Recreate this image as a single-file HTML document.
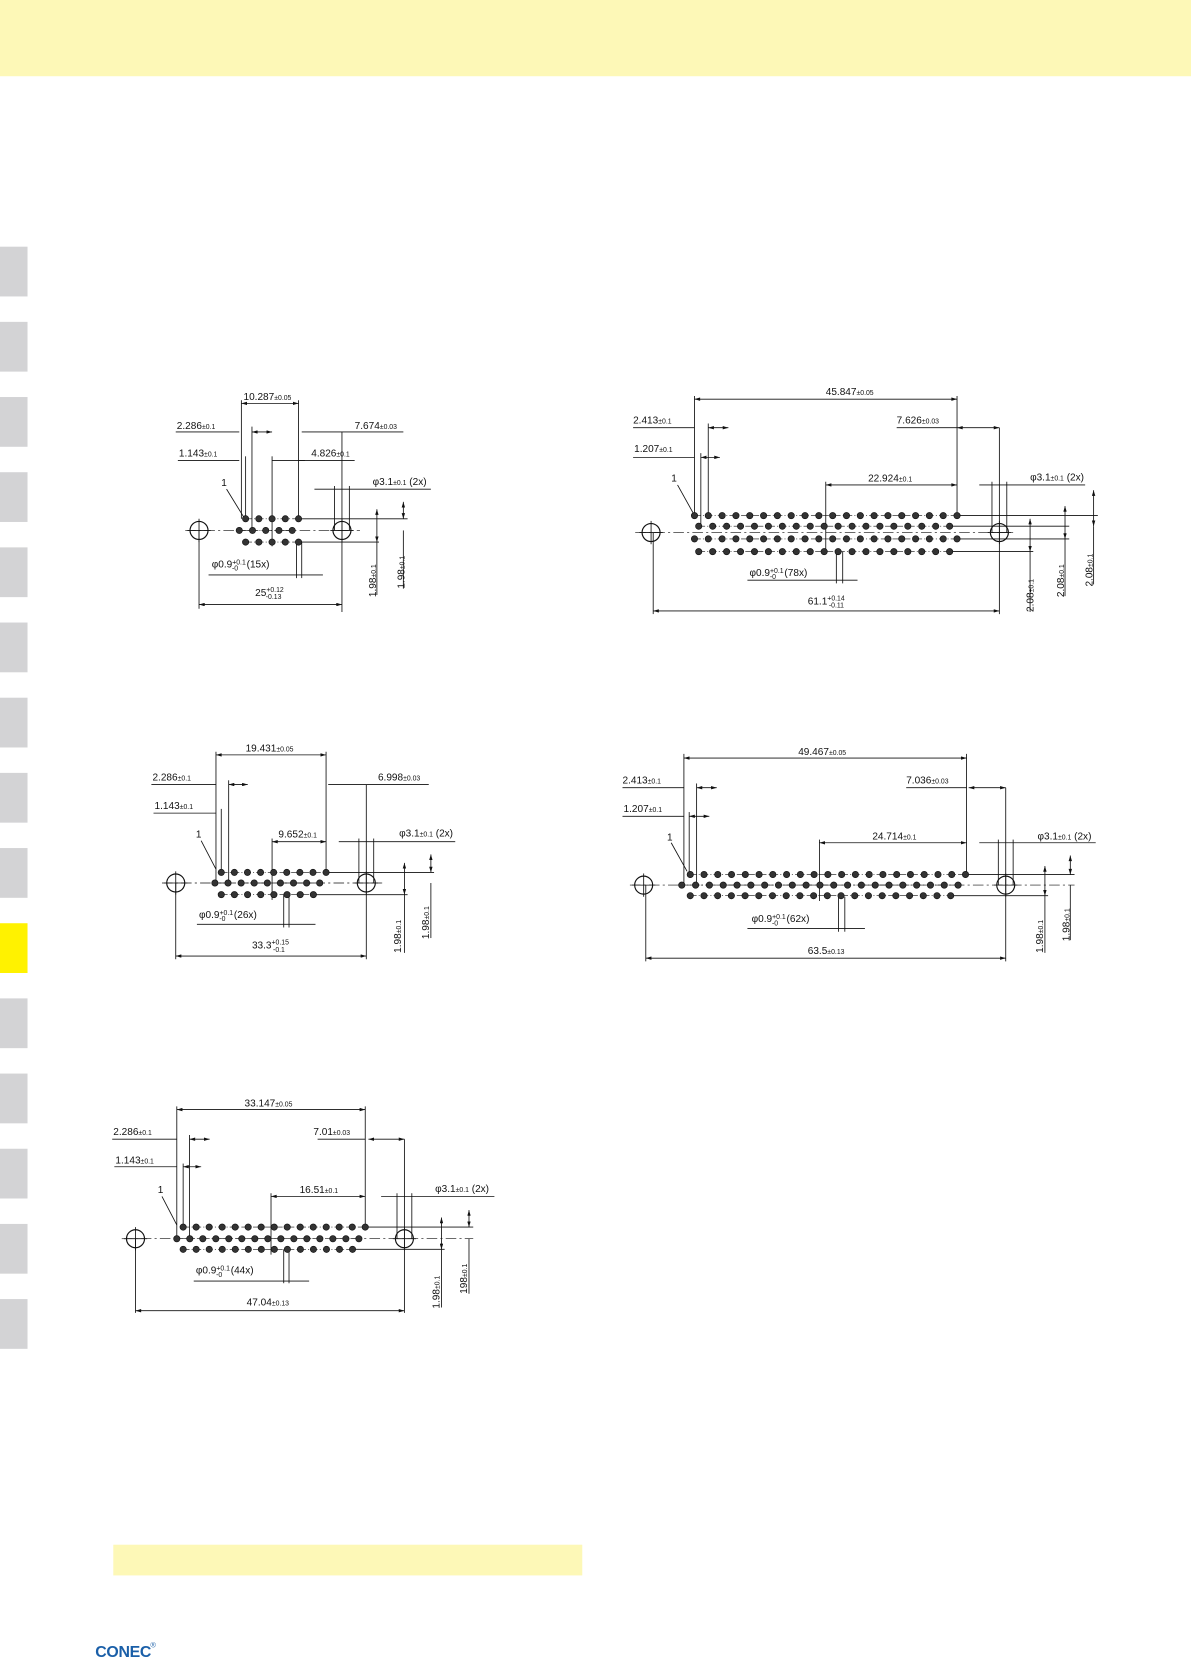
<!DOCTYPE html>
<html><head><meta charset="utf-8">
<style>
html,body{margin:0;padding:0;background:#fff;}
svg{display:block;}
text{font-family:"Liberation Sans Narrow","Liberation Sans",sans-serif;font-size:9.5px;fill:#111;}
.t{font-size:6.5px;}
</style></head>
<body>
<svg id="s" width="1191" height="1658" viewBox="0 0 1125 1566" preserveAspectRatio="none" xmlns="http://www.w3.org/2000/svg">
<defs>
<marker id="a" viewBox="0 0 10 6" refX="10" refY="3" markerWidth="7" markerHeight="4" orient="auto-start-reverse"><path d="M0,0 L10,3 L0,6z" fill="#111"/></marker>
</defs>
<rect x="0" y="0" width="1125" height="72" fill="#fdf8b7"/>
<g fill="#d3d3d5">
<rect x="0" y="233" width="26" height="47"/><rect x="0" y="304" width="26" height="47"/><rect x="0" y="375" width="26" height="47"/><rect x="0" y="446" width="26" height="47"/><rect x="0" y="517" width="26" height="47"/><rect x="0" y="588" width="26" height="47"/><rect x="0" y="659" width="26" height="47"/><rect x="0" y="730" width="26" height="47"/><rect x="0" y="801" width="26" height="47"/><rect x="0" y="943" width="26" height="47"/><rect x="0" y="1014" width="26" height="47"/><rect x="0" y="1085" width="26" height="47"/><rect x="0" y="1156" width="26" height="47"/><rect x="0" y="1227" width="26" height="47"/>
</g>
<rect x="0" y="872" width="26" height="47" fill="#fff200"/>
<rect x="107" y="1459" width="443" height="29" fill="#fdf8b7"/>
<text x="90" y="1565" style="font-family:'Liberation Sans',sans-serif;font-weight:900;font-size:15px;fill:#1a5fa8;letter-spacing:-0.3px">CONEC</text>
<text x="142" y="1556" style="font-size:7px;fill:#1a5fa8">®</text>

<g id="lines" stroke="#111" stroke-width="0.8" fill="none"></g>
<g id="pins" fill="#333" stroke="#111" stroke-width="0.6"></g>

<!-- Diagram 1 text -->
<text x="230" y="378">10.287<tspan class="t">±0.05</tspan></text>
<text x="167" y="405">2.286<tspan class="t">±0.1</tspan></text>
<text x="335" y="405">7.674<tspan class="t">±0.03</tspan></text>
<text x="169" y="431">1.143<tspan class="t">±0.1</tspan></text>
<text x="294" y="431">4.826<tspan class="t">±0.1</tspan></text>
<text x="209" y="459">1</text>
<text x="352" y="458">φ3.1<tspan class="t">±0.1</tspan> (2x)</text>
<text x="200" y="536">φ0.9<tspan class="t" dy="-3">+0.1</tspan><tspan class="t" dx="-13" dy="6">-0</tspan><tspan dx="8" dy="-3">(15x)</tspan></text>
<text x="241" y="563">25<tspan class="t" dy="-4">+0.12</tspan><tspan class="t" dx="-17" dy="7">-0.13</tspan></text>
<text transform="translate(355,564) rotate(-90)">1.98<tspan class="t">±0.1</tspan></text>
<text transform="translate(382,556) rotate(-90)">1.98<tspan class="t">±0.1</tspan></text>

<!-- Diagram 2 text -->
<text x="780" y="373">45.847<tspan class="t">±0.05</tspan></text>
<text x="598" y="400">2.413<tspan class="t">±0.1</tspan></text>
<text x="847" y="400">7.626<tspan class="t">±0.03</tspan></text>
<text x="599" y="427">1.207<tspan class="t">±0.1</tspan></text>
<text x="820" y="455">22.924<tspan class="t">±0.1</tspan></text>
<text x="634" y="455">1</text>
<text x="973" y="454">φ3.1<tspan class="t">±0.1</tspan> (2x)</text>
<text x="708" y="544">φ0.9<tspan class="t" dy="-3">+0.1</tspan><tspan class="t" dx="-13" dy="6">-0</tspan><tspan dx="8" dy="-3">(78x)</tspan></text>
<text x="763" y="571">61.1<tspan class="t" dy="-4">+0.14</tspan><tspan class="t" dx="-15" dy="7">-0.11</tspan></text>
<text transform="translate(976,578) rotate(-90)">2.08<tspan class="t">±0.1</tspan></text>
<text transform="translate(1005,564) rotate(-90)">2.08<tspan class="t">±0.1</tspan></text>
<text transform="translate(1032,554) rotate(-90)">2.08<tspan class="t">±0.1</tspan></text>

<!-- Diagram 3 text -->
<text x="232" y="710">19.431<tspan class="t">±0.05</tspan></text>
<text x="144" y="737">2.286<tspan class="t">±0.1</tspan></text>
<text x="357" y="737">6.998<tspan class="t">±0.03</tspan></text>
<text x="146" y="764">1.143<tspan class="t">±0.1</tspan></text>
<text x="263" y="791">9.652<tspan class="t">±0.1</tspan></text>
<text x="185" y="791">1</text>
<text x="377" y="790">φ3.1<tspan class="t">±0.1</tspan> (2x)</text>
<text x="188" y="867">φ0.9<tspan class="t" dy="-3">+0.1</tspan><tspan class="t" dx="-13" dy="6">-0</tspan><tspan dx="8" dy="-3">(26x)</tspan></text>
<text x="238" y="896">33.3<tspan class="t" dy="-4">+0.15</tspan><tspan class="t" dx="-15" dy="7">-0.1</tspan></text>
<text transform="translate(379,900) rotate(-90)">1.98<tspan class="t">±0.1</tspan></text>
<text transform="translate(405,887) rotate(-90)">1.98<tspan class="t">±0.1</tspan></text>

<!-- Diagram 4 text -->
<text x="754" y="713">49.467<tspan class="t">±0.05</tspan></text>
<text x="588" y="740">2.413<tspan class="t">±0.1</tspan></text>
<text x="856" y="740">7.036<tspan class="t">±0.03</tspan></text>
<text x="589" y="767">1.207<tspan class="t">±0.1</tspan></text>
<text x="824" y="793">24.714<tspan class="t">±0.1</tspan></text>
<text x="630" y="794">1</text>
<text x="980" y="793">φ3.1<tspan class="t">±0.1</tspan> (2x)</text>
<text x="710" y="871">φ0.9<tspan class="t" dy="-3">+0.1</tspan><tspan class="t" dx="-13" dy="6">-0</tspan><tspan dx="8" dy="-3">(62x)</tspan></text>
<text x="763" y="901">63.5<tspan class="t">±0.13</tspan></text>
<text transform="translate(985,900) rotate(-90)">1.98<tspan class="t">±0.1</tspan></text>
<text transform="translate(1010,889) rotate(-90)">1.98<tspan class="t">±0.1</tspan></text>

<!-- Diagram 5 text -->
<text x="231" y="1045">33.147<tspan class="t">±0.05</tspan></text>
<text x="107" y="1072">2.286<tspan class="t">±0.1</tspan></text>
<text x="296" y="1072">7.01<tspan class="t">±0.03</tspan></text>
<text x="109" y="1099">1.143<tspan class="t">±0.1</tspan></text>
<text x="283" y="1127">16.51<tspan class="t">±0.1</tspan></text>
<text x="149" y="1127">1</text>
<text x="411" y="1126">φ3.1<tspan class="t">±0.1</tspan> (2x)</text>
<text x="185" y="1203">φ0.9<tspan class="t" dy="-3">+0.1</tspan><tspan class="t" dx="-13" dy="6">-0</tspan><tspan dx="8" dy="-3">(44x)</tspan></text>
<text x="233" y="1233">47.04<tspan class="t">±0.13</tspan></text>
<text transform="translate(415,1236) rotate(-90)">1.98<tspan class="t">±0.1</tspan></text>
<text transform="translate(441,1222) rotate(-90)">198<tspan class="t">±0.1</tspan></text>
</svg>
<script>
(function(){
var NS="http://www.w3.org/2000/svg";
var L=document.getElementById("lines"),P=document.getElementById("pins");
function el(p,t,a){var e=document.createElementNS(NS,t);for(var k in a)e.setAttribute(k,a[k]);p.appendChild(e);return e;}
function ln(x1,y1,x2,y2,o){var a={x1:x1,y1:y1,x2:x2,y2:y2};if(o){for(var k in o)a[k]=o[k];}return el(L,"line",a);}
function dim(x1,y,x2){ln(x1,y,x2,y,{"marker-start":"url(#a)","marker-end":"url(#a)"});}
function lead(x1,y,x2){ln(x1,y,x2,y);}
function vd(x,y1,y2){ln(x,y1,x,y2,{"marker-start":"url(#a)","marker-end":"url(#a)"});}
function hole(x,y){el(L,"circle",{cx:x,cy:y,r:8.5,"stroke-width":1.1});ln(x-11,y,x+11,y);ln(x,y-11,x,y+11);}
function center(x1,x2,y){ln(x1,y,x2,y,{"stroke-dasharray":"10 3 2 3","stroke-width":0.6});}
function row(y,x0,x1,n){ln(x0,y,x1,y,{"stroke-dasharray":"6 2 1 2","stroke-width":0.6});for(var i=0;i<n;i++){var x=x0+(x1-x0)*i/(n-1);el(P,"circle",{cx:x,cy:y,r:3});}}
// D1
hole(188,501);hole(323,501);center(175,340,501);
row(490,232,282,5);row(501,226,276,5);row(512,232,282,5);
dim(228,381,282);ln(228,378,228,490);ln(282,378,282,490);
lead(166,408,226);dim(238,408,257);ln(238,403,238,501);
lead(285,408,381);ln(323,408,323,578);
lead(168,435,226);ln(232,431,232,490);lead(257,435,288);ln(257,431,257,516);
lead(282,435,335);
ln(214,462,230,488);
lead(297,462,407);ln(316,459,316,501);ln(330,459,330,501);
lead(197,543,305);ln(280,512,280,546);ln(285,512,285,546);
dim(188,571,323);ln(188,501,188,575);
ln(282,490,385,490);ln(282,512,358,512);
vd(356,481,512);ln(356,512,356,562);vd(381,474,490);ln(381,501,381,556);
// D2
hole(615,503);hole(944,503);center(600,960,503);
row(487,656,904,20);row(497,660,897,19);row(509,656,904,20);row(521,660,897,19);
dim(656,377,904);ln(656,374,656,487);ln(904,374,904,487);
lead(598,404,656);dim(669,404,688);ln(669,400,669,487);
lead(847,404,904);dim(904,404,944);ln(944,404,944,580);
lead(598,432,656);dim(662,432,680);ln(662,428,662,497);
dim(780,458,904);ln(780,455,780,521);
ln(640,458,655,485);
lead(925,458,1025);ln(937,455,937,503);ln(951,455,951,503);
lead(706,548,810);ln(790,521,790,551);ln(796,521,796,551);
dim(617,577,944);ln(617,503,617,580);
ln(904,487,1037,487);ln(897,497,1010,497);ln(904,509,1010,509);ln(897,521,976,521);
vd(973,490,521);ln(973,521,973,578);vd(1006,478,509);ln(1006,509,1006,563);vd(1033,463,497);ln(1033,497,1033,552);
// D3
hole(166,834);hole(346,834);center(153,362,834);
row(824,209,308,9);row(834,203,302,9);row(845,209,296,8);
dim(204,713,308);ln(204,710,204,834);ln(308,710,308,824);
lead(143,741,204);dim(216,741,234);ln(216,737,216,834);
lead(310,741,405);ln(346,741,346,906);
lead(145,768,204);ln(209,764,209,824);
dim(257,795,308);ln(257,792,257,850);
ln(190,794,204,821);
lead(320,795,430);ln(339,792,339,834);ln(353,792,353,834);
lead(186,873,298);ln(268,845,268,876);ln(273,845,273,876);
dim(166,903,346);ln(166,834,166,906);
ln(308,824,410,824);ln(296,845,385,845);
vd(382,815,845);ln(382,845,382,900);vd(407,807,824);ln(407,834,407,886);
// D4
hole(608,836);hole(950,836);center(595,1015,836);
row(826,652,912,21);row(836,644,905,21);row(846,652,898,20);
dim(646,716,913);ln(646,712,646,836);ln(913,712,913,826);
lead(588,744,646);dim(658,744,677);ln(658,740,658,836);
lead(856,744,913);dim(915,744,950);ln(950,744,950,908);
lead(588,771,646);dim(651,771,670);ln(651,767,651,826);
dim(774,796,913);ln(774,793,774,851);
ln(634,796,649,823);
lead(925,796,1035);ln(943,793,943,836);ln(957,793,957,836);
lead(706,877,817);ln(792,847,792,880);ln(798,847,798,880);
dim(610,905,950);ln(610,836,610,908);
ln(913,826,1015,826);ln(898,846,990,846);
vd(987,818,846);ln(987,846,987,900);vd(1011,808,826);ln(1011,836,1011,888);
// D5
hole(128,1170);hole(382,1170);center(115,447,1170);
row(1159,173,345,15);row(1170,167,339,15);row(1180,173,333,14);
dim(167,1048,345);ln(167,1045,167,1170);ln(345,1045,345,1159);
lead(106,1076,167);dim(179,1076,198);ln(179,1072,179,1170);
lead(300,1076,345);dim(348,1076,382);ln(382,1076,382,1240);
lead(108,1102,167);dim(173,1102,190);ln(173,1099,173,1159);
dim(256,1130,345);ln(256,1127,256,1185);
ln(153,1130,167,1157);
lead(360,1130,467);ln(375,1127,375,1170);ln(389,1127,389,1170);
lead(183,1210,292);ln(268,1180,268,1212);ln(273,1180,273,1212);
dim(128,1238,382);ln(128,1170,128,1240);
ln(345,1159,447,1159);ln(333,1180,420,1180);
vd(417,1150,1180);ln(417,1180,417,1235);vd(443,1143,1159);ln(443,1170,443,1222);
})();
</script>
</body></html>
